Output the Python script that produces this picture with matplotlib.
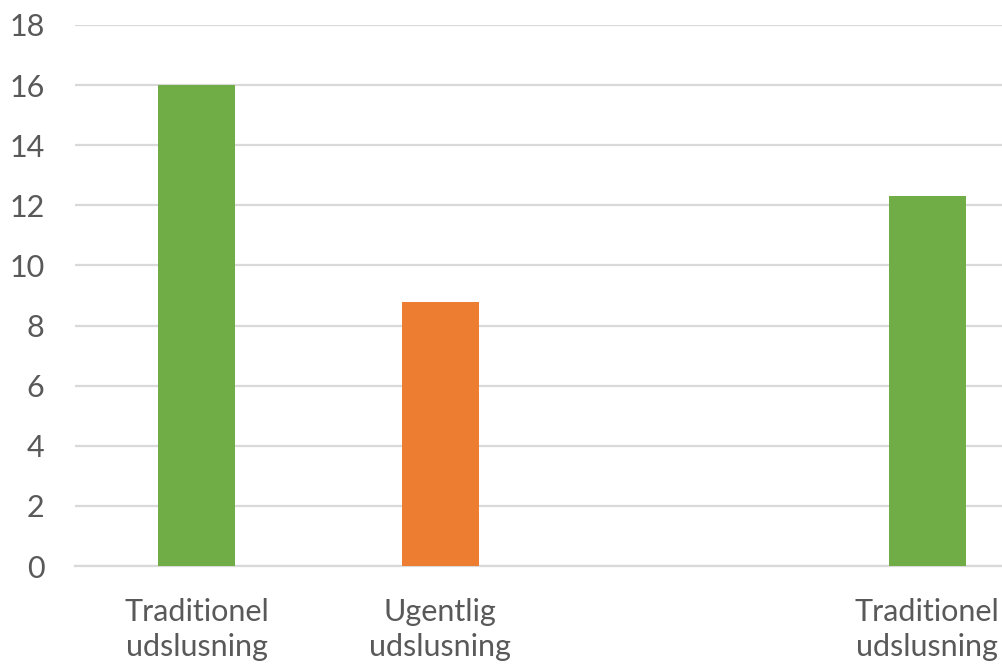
import matplotlib.pyplot as plt

categories = ['Traditionel\nudslusning', 'Ugentlig\nudslusning', '', 'Traditionel\nudslusning']
values = [16, 8.8, 0, 12.3]
colors = ['#70AD47', '#ED7D31', '#70AD47', '#70AD47']
y_ticks = [0, 2, 4, 6, 8, 10, 12, 14, 16, 18]

plt.rcParams['font.family'] = ['Lato', 'DejaVu Sans']

fig = plt.figure(figsize=(10.03, 6.66), dpi=100)
# plot area runs past the right edge, as in the cropped original
ax = fig.add_axes([75 / 1003, 100 / 666, 974 / 1003, 541 / 666])

x = range(len(categories))
ax.bar(x, values, width=0.317, color=colors, zorder=3)

ax.set_xlim(-0.5, len(categories) - 0.5)
ax.set_ylim(0, 18)
ax.set_yticks(y_ticks)
ax.set_xticks(list(x))
ax.set_xticklabels(categories, linespacing=1.32)

ax.grid(axis='y', color='#D9D9D9', linewidth=1.6, zorder=0)
for side in ['top', 'right', 'left']:
    ax.spines[side].set_visible(False)
ax.spines['bottom'].set_color('#D9D9D9')
ax.spines['bottom'].set_linewidth(1.6)

ax.tick_params(axis='both', length=0, labelsize=22, labelcolor='#595959')
ax.tick_params(axis='y', pad=22)
ax.tick_params(axis='x', pad=23)

fig.savefig('out.png', dpi=100)
